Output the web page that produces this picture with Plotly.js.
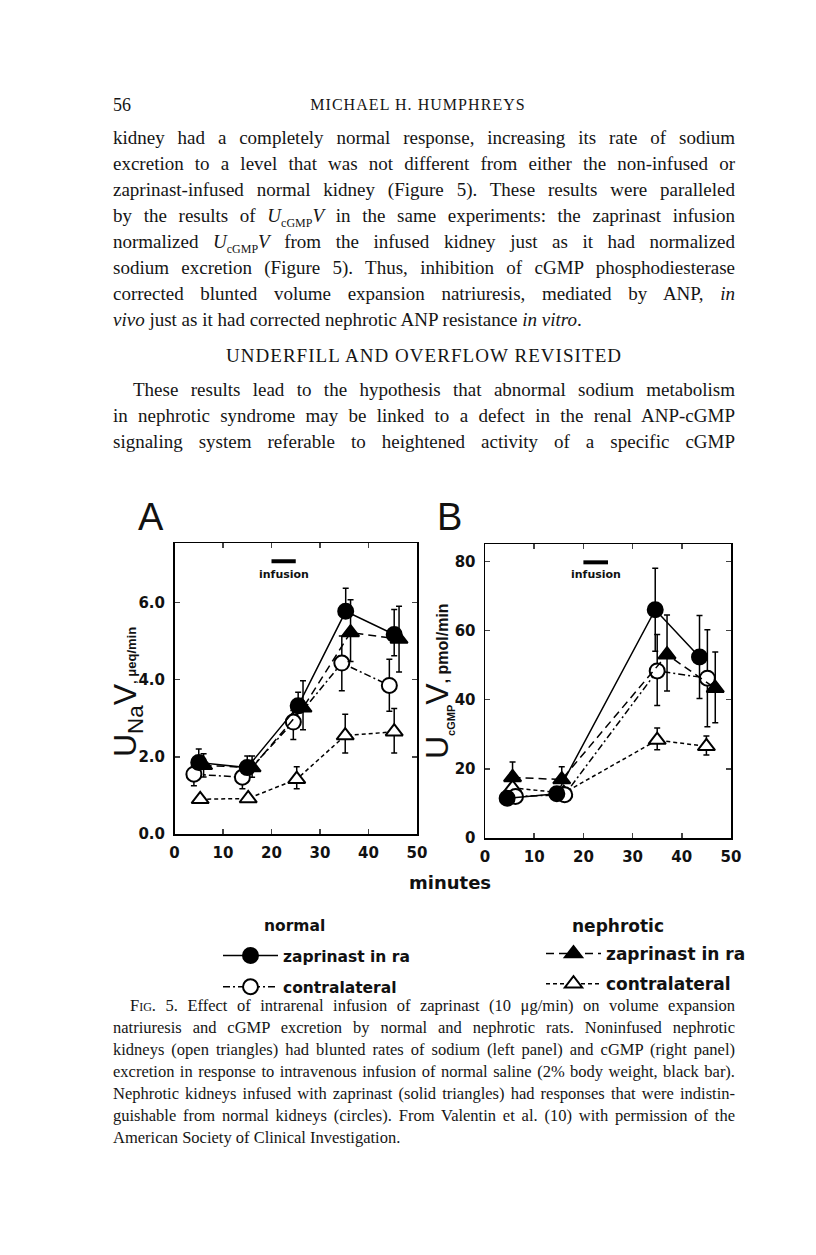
<!DOCTYPE html>
<html><head><meta charset="utf-8">
<script src="https://cdn.plot.ly/plotly-3.0.1.min.js"></script>
<style>
body{margin:0;background:#fff;width:816px;height:1255px;position:relative;overflow:hidden}
.t{position:absolute;left:113px;width:622px;font-family:'Liberation Serif','Times New Roman',serif;font-size:19px;line-height:26px;color:#151515;text-align:justify;text-align-last:justify;white-space:nowrap}
.c{font-size:16.5px;line-height:22px}
.l{text-align-last:left}
.sc{font-variant:small-caps}
#plot{position:absolute;left:0;top:0;width:816px;height:1255px;z-index:2}
</style></head><body>
<div class="t l" style="top:92px;font-size:18px">56</div>
<div class="t" style="top:92px;left:107px;font-size:16px;text-align:center;text-align-last:center;letter-spacing:1.05px">MICHAEL H. HUMPHREYS</div>
<div class="t" style="top:125px">kidney had a completely normal response, increasing its rate of sodium</div>
<div class="t" style="top:151px">excretion to a level that was not different from either the non-infused or</div>
<div class="t" style="top:177px">zaprinast-infused normal kidney (Figure 5). These results were paralleled</div>
<div class="t" style="top:203px">by the results of <i>U</i><sub style="font-size:12px">cGMP</sub><i>V</i> in the same experiments: the zaprinast infusion</div>
<div class="t" style="top:229px">normalized <i>U</i><sub style="font-size:12px">cGMP</sub><i>V</i> from the infused kidney just as it had normalized</div>
<div class="t" style="top:255px">sodium excretion (Figure 5). Thus, inhibition of cGMP phosphodiesterase</div>
<div class="t" style="top:281px">corrected blunted volume expansion natriuresis, mediated by ANP, <i>in</i></div>
<div class="t l" style="top:307px"><i>vivo</i> just as it had corrected nephrotic ANP resistance <i>in vitro</i>.</div>
<div class="t" style="top:343px;font-size:19px;text-align:center;text-align-last:center;letter-spacing:1.05px">UNDERFILL AND OVERFLOW REVISITED</div>
<div class="t" style="top:377px;left:133px;width:602px">These results lead to the hypothesis that abnormal sodium metabolism</div>
<div class="t" style="top:403px">in nephrotic syndrome may be linked to a defect in the renal ANP-cGMP</div>
<div class="t" style="top:429px">signaling system referable to heightened activity of a specific cGMP</div>

<div class="t c" style="top:995px;left:130px;width:605px"><span class="sc">Fig.</span> 5. Effect of intrarenal infusion of zaprinast (10 μg/min) on volume expansion</div>
<div class="t c" style="top:1017px">natriuresis and cGMP excretion by normal and nephrotic rats. Noninfused nephrotic</div>
<div class="t c" style="top:1039px">kidneys (open triangles) had blunted rates of sodium (left panel) and cGMP (right panel)</div>
<div class="t c" style="top:1061px">excretion in response to intravenous infusion of normal saline (2% body weight, black bar).</div>
<div class="t c" style="top:1083px">Nephrotic kidneys infused with zaprinast (solid triangles) had responses that were indistin-</div>
<div class="t c" style="top:1105px">guishable from normal kidneys (circles). From Valentin et al. (10) with permission of the</div>
<div class="t c l" style="top:1127px">American Society of Clinical Investigation.</div>

<div id="plot"></div>
<script>
// ---------- data: panel A (sodium excretion, µeq/min) ----------
const A_normZap_x = [5, 15, 25.5, 35.3, 45.3];
const A_normZap_y = [1.85, 1.72, 3.32, 5.77, 5.17];
const A_normZap_up = [0.35, 0.3, 0.35, 0.6, 0.65];
const A_normZap_dn = [0, 0, 0, 0, 0.55];

const A_nephZap_x = [6, 16, 26.5, 36.3, 46.3];
const A_nephZap_y = [1.78, 1.72, 3.27, 5.22, 5.05];
const A_nephZap_up = [0.3, 0.3, 0.7, 0.85, 0.85];
const A_nephZap_dn = [0.3, 0.25, 0.57, 0.75, 0.85];

const A_normContra_x = [4, 14, 24.5, 34.5, 44.3];
const A_normContra_y = [1.55, 1.47, 2.9, 4.43, 3.85];
const A_normContra_up = [0, 0, 0.3, 0.7, 0.68];
const A_normContra_dn = [0.3, 0.3, 0.45, 0.72, 0.67];

const A_nephContra_x = [5.3, 15.2, 25.2, 35.2, 45.3];
const A_nephContra_y = [0.9, 0.92, 1.42, 2.55, 2.65];
const A_nephContra_up = [0, 0, 0.32, 0.55, 0.6];
const A_nephContra_dn = [0, 0, 0.25, 0.45, 0.55];

// ---------- data: panel B (cGMP excretion, pmol/min) ----------
const B_normZap_x = [4.5, 14.6, 34.6, 43.6];
const B_normZap_y = [11.5, 12.8, 66, 52.3];
const B_normZap_up = [0, 0, 12, 12];
const B_normZap_dn = [0, 0, 12, 12];

const B_nephZap_x = [5.6, 15.6, 37, 46.8];
const B_nephZap_y = [17.5, 16.9, 53, 43.3];
const B_nephZap_up = [4.5, 3.7, 11.5, 10.5];
const B_nephZap_dn = [0, 0, 10.5, 10];

const B_normContra_x = [6.2, 16.2, 35, 45.2];
const B_normContra_y = [12, 12.5, 48.3, 46.2];
const B_normContra_up = [0, 0, 10.5, 14];
const B_normContra_dn = [0, 0, 10, 14];

const B_nephContra_x = [5.6, 16, 35, 45];
const B_nephContra_y = [14.5, 13, 28.3, 26.5];
const B_nephContra_up = [0, 0, 3.5, 3];
const B_nephContra_dn = [0, 0, 2.8, 2.5];

const infusionStart = 20, infusionEnd = 25;
const xTicks = [0, 10, 20, 30, 40, 50];
const yTicksA = [0, 2, 4, 6];
const yTicksB = [0, 20, 40, 60, 80];

// ---------- layout helpers ----------
const W = 816, H = 1255;
const px = v => v / W, py = v => 1 - v / H;
const SANS = 'DejaVu Sans, Liberation Sans, Arial, sans-serif';
const HELV = 'Liberation Sans, Arial, sans-serif';
const tickFont = {family: SANS, size: 15, color: '#111', weight: 700};

function tr(x, y, up, dn, sym, fill, dash, name, xa, ya, leg, show, rank) {
  return {type: 'scatter', mode: 'lines+markers', x, y, name, xaxis: xa, yaxis: ya,
    legend: leg, legendgroup: leg + rank, legendrank: rank, showlegend: show, cliponaxis: false,
    line: {color: '#000', width: 1.5, dash},
    marker: {symbol: sym, size: 15, color: fill, line: {color: '#000', width: 2}},
    error_y: {type: 'data', symmetric: false, array: up, arrayminus: dn, color: '#000', thickness: 1.5, width: 3}};
}
const DASH_NZ = '8px,5px', DASH_NC = '7px,3px,2px,3px', DASH_PC = '4px,3px';
const traces = [
  tr(A_nephContra_x, A_nephContra_y, A_nephContra_up, A_nephContra_dn, 'triangle-up', '#fff', DASH_PC, 'contralateral', 'x', 'y', 'legend2', true, 2),
  tr(A_normContra_x, A_normContra_y, A_normContra_up, A_normContra_dn, 'circle', '#fff', DASH_NC, 'contralateral', 'x', 'y', 'legend', true, 2),
  tr(A_nephZap_x, A_nephZap_y, A_nephZap_up, A_nephZap_dn, 'triangle-up', '#000', DASH_NZ, 'zaprinast in ra', 'x', 'y', 'legend2', true, 1),
  tr(A_normZap_x, A_normZap_y, A_normZap_up, A_normZap_dn, 'circle', '#000', 'solid', 'zaprinast in ra', 'x', 'y', 'legend', true, 1),
  tr(B_nephContra_x, B_nephContra_y, B_nephContra_up, B_nephContra_dn, 'triangle-up', '#fff', DASH_PC, 'contralateral', 'x2', 'y2', 'legend2', false, 2),
  tr(B_normContra_x, B_normContra_y, B_normContra_up, B_normContra_dn, 'circle', '#fff', DASH_NC, 'contralateral', 'x2', 'y2', 'legend', false, 2),
  tr(B_nephZap_x, B_nephZap_y, B_nephZap_up, B_nephZap_dn, 'triangle-up', '#000', DASH_NZ, 'zaprinast in ra', 'x2', 'y2', 'legend2', false, 1),
  tr(B_normZap_x, B_normZap_y, B_normZap_up, B_normZap_dn, 'circle', '#000', 'solid', 'zaprinast in ra', 'x2', 'y2', 'legend', false, 1)
];

function xax(dom) {
  return {domain: dom, range: [0, 50], tickvals: xTicks, ticks: 'inside', ticklen: 5, tickwidth: 1.5,
    showline: true, mirror: 'ticks', linewidth: 1.5, linecolor: '#000', showgrid: false, zeroline: false,
    tickfont: tickFont, ticklabelstandoff: 4};
}
function yax(dom, rng, vals, fmt) {
  return {domain: dom, range: rng, tickvals: vals, tickformat: fmt, ticks: 'inside', ticklen: 5, tickwidth: 1.5,
    showline: true, mirror: 'ticks', linewidth: 1.5, linecolor: '#000', showgrid: false, zeroline: false,
    tickfont: tickFont, ticklabelstandoff: 5};
}

function ann(x, y, text, font, extra) {
  return Object.assign({xref: 'paper', yref: 'paper', x: px(x), y: py(y), text, showarrow: false,
    xanchor: 'center', yanchor: 'middle', font}, extra || {});
}

const layout = {
  width: W, height: H, margin: {l: 0, r: 0, t: 0, b: 0},
  paper_bgcolor: 'rgba(0,0,0,0)', plot_bgcolor: 'rgba(0,0,0,0)',
  xaxis: xax([px(174.5), px(417)]),
  yaxis: yax([py(834), py(543)], [0, 7.54], yTicksA, '.1f'),
  xaxis2: Object.assign(xax([px(485), px(731)]), {anchor: 'y2'}),
  yaxis2: Object.assign(yax([py(838), py(544)], [0, 85], yTicksB, 'd'), {anchor: 'x2'}),
  showlegend: true,
  legend: {x: px(218), y: py(939), xanchor: 'left', yanchor: 'top', bgcolor: 'rgba(0,0,0,0)',
    font: {family: SANS, size: 15.5, color: '#111', weight: 700}, traceorder: 'grouped', itemwidth: 55,
    tracegroupgap: 8, valign: 'middle'},
  legend2: {x: px(541), y: py(936), xanchor: 'left', yanchor: 'top', bgcolor: 'rgba(0,0,0,0)',
    font: {family: SANS, size: 17, color: '#111', weight: 700}, traceorder: 'grouped', itemwidth: 55,
    tracegroupgap: 5, valign: 'middle'},
  shapes: [
    {type: 'line', xref: 'x', yref: 'y', x0: infusionStart, x1: infusionEnd, y0: 7.07, y1: 7.07, line: {color: '#000', width: 4}},
    {type: 'line', xref: 'x2', yref: 'y2', x0: infusionStart, x1: infusionEnd, y0: 79.7, y1: 79.7, line: {color: '#000', width: 4}}
  ],
  annotations: [
    {xref: 'x', yref: 'y', x: 22.5, y: 6.72, text: 'infusion', showarrow: false, xanchor: 'center', yanchor: 'middle', font: {family: SANS, size: 11, weight: 700, color: '#111'}},
    {xref: 'x2', yref: 'y2', x: 22.5, y: 76.2, text: 'infusion', showarrow: false, xanchor: 'center', yanchor: 'middle', font: {family: SANS, size: 11, weight: 700, color: '#111'}},
    ann(151, 517, 'A', {family: HELV, size: 38, color: '#111'}),
    ann(449, 517, 'B', {family: HELV, size: 38, color: '#111'}),
    ann(450, 882, 'minutes', {family: SANS, size: 18, weight: 700, color: '#111'}),
    ann(294, 926, 'normal', {family: SANS, size: 15.5, weight: 700, color: '#111'}),
    ann(618, 926, 'nephrotic', {family: SANS, size: 17, weight: 700, color: '#111'}),
    ann(127, 692, 'U<sub>Na</sub>V<span style="font-size:13px;font-weight:bold">, μeq/min</span>',
      {family: HELV, size: 32, color: '#111'}, {textangle: -90}),
    ann(438, 681, 'U<sub><span style="font-size:11px;font-weight:bold">cGMP</span></sub>V<span style="font-size:16px;font-weight:bold">, pmol/min</span>',
      {family: HELV, size: 32, color: '#111'}, {textangle: -90})
  ]
};
Plotly.newPlot('plot', traces, layout, {staticPlot: true, displayModeBar: false});
</script>
</body></html>
